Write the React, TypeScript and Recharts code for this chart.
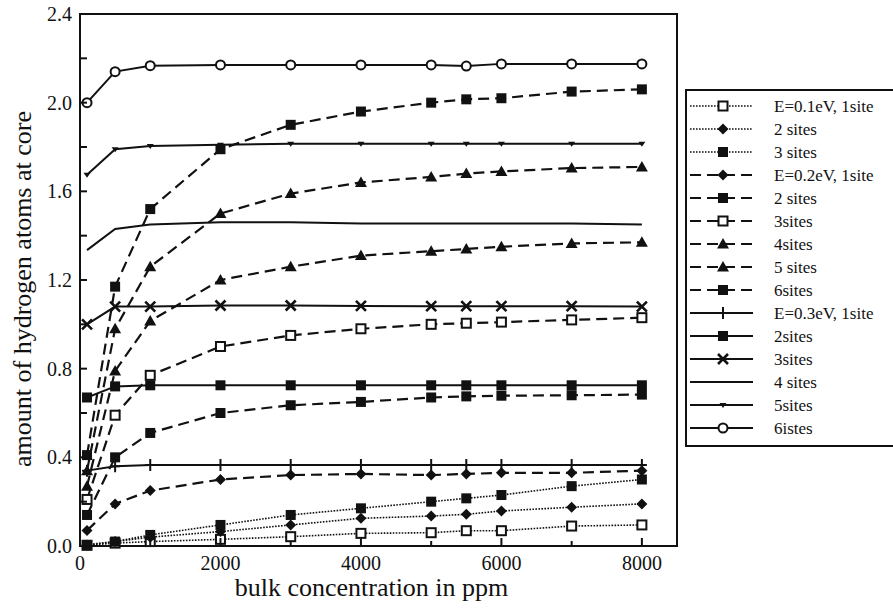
import React from 'react';
import { LineChart, Line, XAxis, YAxis, ReferenceArea, Legend } from 'recharts';

const concentration = [100, 500, 1000, 2000, 3000, 4000, 5000, 5500, 6000, 7000, 8000];

const e01Site1 = [0.003, 0.013, 0.02, 0.03, 0.042, 0.057, 0.06, 0.069, 0.069, 0.09, 0.095];
const e01Sites2 = [0.005, 0.02, 0.04, 0.065, 0.095, 0.125, 0.135, 0.143, 0.158, 0.175, 0.19];
const e01Sites3 = [0.005, 0.02, 0.05, 0.095, 0.14, 0.17, 0.2, 0.215, 0.23, 0.27, 0.3];
const e02Site1 = [0.07, 0.19, 0.25, 0.3, 0.32, 0.325, 0.32, 0.325, 0.33, 0.33, 0.34];
const e02Sites2 = [0.14, 0.4, 0.51, 0.6, 0.635, 0.65, 0.67, 0.675, 0.678, 0.68, 0.683];
const e02Sites3 = [0.21, 0.59, 0.77, 0.9, 0.95, 0.98, 1.0, 1.005, 1.01, 1.02, 1.03];
const e02Sites4 = [0.27, 0.79, 1.015, 1.2, 1.26, 1.31, 1.33, 1.34, 1.35, 1.365, 1.37];
const e02Sites5 = [0.34, 0.98, 1.26, 1.5, 1.59, 1.64, 1.665, 1.68, 1.69, 1.705, 1.71];
const e02Sites6 = [0.41, 1.17, 1.52, 1.79, 1.9, 1.96, 2.0, 2.015, 2.02, 2.05, 2.06];
const e03Site1 = [0.34, 0.36, 0.365, 0.365, 0.365, 0.365, 0.365, 0.365, 0.365, 0.365, 0.365];
const e03Sites2 = [0.67, 0.72, 0.725, 0.725, 0.725, 0.725, 0.725, 0.725, 0.725, 0.725, 0.725];
const e03Sites3 = [1.0, 1.08, 1.08, 1.085, 1.085, 1.083, 1.082, 1.082, 1.082, 1.082, 1.08];
const e03Sites4 = [1.335, 1.43, 1.45, 1.46, 1.46, 1.455, 1.455, 1.455, 1.455, 1.455, 1.45];
const e03Sites5 = [1.675, 1.79, 1.805, 1.81, 1.815, 1.815, 1.815, 1.815, 1.815, 1.815, 1.815];
const e03Sites6 = [2.0, 2.14, 2.167, 2.17, 2.17, 2.17, 2.17, 2.165, 2.175, 2.175, 2.175];

const seriesLabels = [
  'E=0.1eV, 1site', '2 sites', '3 sites',
  'E=0.2eV, 1site', '2 sites', '3sites', '4sites', '5 sites', '6sites',
  'E=0.3eV, 1site', '2sites', '3sites', '4 sites', '5sites', '6istes',
];

const xTicks = [0, 1000, 2000, 3000, 4000, 5000, 6000, 7000, 8000];
const xLabelTicks = [0, 2000, 4000, 6000, 8000];
const yTicks = [0, 0.2, 0.4, 0.6, 0.8, 1.0, 1.2, 1.4, 1.6, 1.8, 2.0, 2.2, 2.4];
const yLabelTicks = [0, 0.4, 0.8, 1.2, 1.6, 2.0, 2.4];

const xTitle = 'bulk concentration in ppm';
const yTitle = 'amount of hydrogen atoms at core';

type LineKind = 'dotted' | 'dashed' | 'solid';
type Shape = 'openSquare' | 'square' | 'diamond' | 'triangle' | 'plus' | 'cross' | 'none' | 'smallTri' | 'openCircle';

const seriesValues = [
  e01Site1, e01Sites2, e01Sites3,
  e02Site1, e02Sites2, e02Sites3, e02Sites4, e02Sites5, e02Sites6,
  e03Site1, e03Sites2, e03Sites3, e03Sites4, e03Sites5, e03Sites6,
];
const seriesKinds: LineKind[] = [
  'dotted', 'dotted', 'dotted',
  'dashed', 'dashed', 'dashed', 'dashed', 'dashed', 'dashed',
  'solid', 'solid', 'solid', 'solid', 'solid', 'solid',
];
const seriesShapes: Shape[] = [
  'openSquare', 'diamond', 'square',
  'diamond', 'square', 'openSquare', 'triangle', 'triangle', 'square',
  'plus', 'square', 'cross', 'none', 'smallTri', 'openCircle',
];

const seriesDefs = seriesLabels.map((label, i) => ({
  key: `s${i}`,
  label,
  values: seriesValues[i],
  kind: seriesKinds[i],
  shape: seriesShapes[i],
}));

const data = concentration.map((c, i) => {
  const row: Record<string, number> = { c };
  seriesDefs.forEach((s) => {
    row[s.key] = s.values[i];
  });
  return row;
});

const INK = '#111';
const FONT = 'Liberation Serif, Times New Roman, Times, serif';
const fontStyle = { fontFamily: FONT };

const lineStyle = (kind: LineKind) => {
  if (kind === 'dotted') return { strokeWidth: 1.6, strokeDasharray: '1.6 1.4' };
  if (kind === 'dashed') return { strokeWidth: 2.2, strokeDasharray: '11 6' };
  return { strokeWidth: 2, strokeDasharray: undefined };
};

function Marker({ cx, cy, shape }: { cx: number; cy: number; shape: Shape }) {
  switch (shape) {
    case 'openSquare':
      return <rect x={cx - 4.5} y={cy - 4.5} width={9} height={9} fill="#fff" stroke={INK} strokeWidth={2} />;
    case 'square':
      return <rect x={cx - 5} y={cy - 5} width={10} height={10} fill={INK} />;
    case 'diamond':
      return <polygon points={`${cx},${cy - 5.5} ${cx + 5.5},${cy} ${cx},${cy + 5.5} ${cx - 5.5},${cy}`} fill={INK} />;
    case 'triangle':
      return <polygon points={`${cx},${cy - 6} ${cx + 6},${cy + 4.5} ${cx - 6},${cy + 4.5}`} fill={INK} />;
    case 'plus':
      return <path d={`M${cx - 5},${cy}H${cx + 5}M${cx},${cy - 6}V${cy + 6}`} stroke={INK} strokeWidth={2} fill="none" />;
    case 'cross':
      return <path d={`M${cx - 5},${cy - 5}L${cx + 5},${cy + 5}M${cx + 5},${cy - 5}L${cx - 5},${cy + 5}`} stroke={INK} strokeWidth={2.6} fill="none" />;
    case 'smallTri':
      return <polygon points={`${cx - 3.5},${cy - 2} ${cx + 3.5},${cy - 2} ${cx},${cy + 3}`} fill={INK} />;
    case 'openCircle':
      return <circle cx={cx} cy={cy} r={4.5} fill="#fff" stroke={INK} strokeWidth={2} />;
    default:
      return null;
  }
}

const makeDot = (shape: Shape) => (props: any) => {
  const { cx, cy, index } = props;
  if (cx == null || cy == null || shape === 'none') return <g key={`d${index}`} />;
  return (
    <g key={`d${index}`}>
      <Marker cx={cx} cy={cy} shape={shape} />
    </g>
  );
};

const XTick = (props: any) => {
  const { x, y, payload } = props;
  const v = payload.value;
  const major = xLabelTicks.includes(v);
  return (
    <g>
      <line x1={x} x2={x} y1={y} y2={y - (major ? 8 : 5)} stroke={INK} strokeWidth={2} />
      {major && (
        <text x={x} y={y + 24} textAnchor="middle" fontSize={20} style={fontStyle} fill={INK}>
          {v}
        </text>
      )}
    </g>
  );
};

const YTick = (props: any) => {
  const { x, y, payload } = props;
  const v = payload.value;
  const major = yLabelTicks.some((t) => Math.abs(t - v) < 1e-6);
  return (
    <g>
      <line x1={x} x2={x + 7} y1={y} y2={y} stroke={INK} strokeWidth={2} />
      {major && (
        <text x={x - 8} y={y + 7} textAnchor="end" fontSize={20} style={fontStyle} fill={INK}>
          {v.toFixed(1)}
        </text>
      )}
    </g>
  );
};

const XTitleLabel = (props: any) => {
  const vb = props.viewBox;
  const cx = vb.x + vb.width / 2 - 7;
  return (
    <text x={cx} y={vb.y + 50} textAnchor="middle" fontSize={26} style={fontStyle} fill={INK}>
      {xTitle}
    </text>
  );
};

const YTitleLabel = (props: any) => {
  const vb = props.viewBox;
  const cy = vb.y + vb.height / 2 + 9;
  const x = 31;
  return (
    <text x={x} y={cy} transform={`rotate(-90, ${x}, ${cy})`} textAnchor="middle" fontSize={26} style={fontStyle} fill={INK}>
      {yTitle}
    </text>
  );
};

const LegendBox = () => (
  <div
    style={{
      boxSizing: 'border-box',
      width: 208,
      height: 358,
      borderLeft: `2px solid ${INK}`,
      borderTop: `2px solid ${INK}`,
      borderBottom: `2px solid ${INK}`,
      background: '#fff',
    }}
  >
    <svg width={206} height={354} style={{ display: 'block' }}>
      {seriesDefs.map((s, i) => {
        const y = 15 + 23 * i;
        const ls = lineStyle(s.kind);
        return (
          <g key={s.key}>
            <line x1={3} x2={66} y1={y} y2={y} stroke={INK} strokeWidth={ls.strokeWidth} strokeDasharray={ls.strokeDasharray} />
            {s.shape !== 'none' && <Marker cx={36} cy={y} shape={s.shape} />}
            <text x={87} y={y + 5.5} fontSize={17} style={fontStyle} fill={INK}>
              {s.label}
            </text>
          </g>
        );
      })}
    </svg>
  </div>
);

export default function App() {
  return (
    <div style={{ position: 'absolute', left: 0, top: 0, width: 893, height: 615, background: '#fff', fontFamily: FONT }}>
      <LineChart width={893} height={615} data={data} margin={{ top: 14, right: 216, bottom: 29, left: 20 }} style={fontStyle}>
        <XAxis
          dataKey="c"
          type="number"
          domain={[0, 8500]}
          ticks={xTicks}
          interval={0}
          height={40}
          tickSize={0}
          tickMargin={0}
          tickLine={false}
          axisLine={false}
          tick={<XTick />}
          label={XTitleLabel}
        />
        <YAxis
          type="number"
          domain={[0, 2.4]}
          ticks={yTicks}
          interval={0}
          width={60}
          tickSize={0}
          tickMargin={0}
          tickLine={false}
          axisLine={false}
          tick={<YTick />}
          label={YTitleLabel}
        />
        <ReferenceArea x1={0} x2={8500} y1={0} y2={2.4} fill="none" stroke={INK} strokeWidth={2} fillOpacity={0} />
        {seriesDefs.map((s) => {
          const ls = lineStyle(s.kind);
          return (
            <Line
              key={s.key}
              dataKey={s.key}
              name={s.label}
              type="linear"
              stroke={INK}
              strokeWidth={ls.strokeWidth}
              strokeDasharray={ls.strokeDasharray}
              dot={makeDot(s.shape)}
              activeDot={false}
              isAnimationActive={false}
            />
          );
        })}
        <Legend
          layout="horizontal"
          verticalAlign="middle"
          align="center"
          content={<LegendBox />}
          wrapperStyle={{ position: 'absolute', left: 685, top: 89, width: 208, height: 358 }}
        />
      </LineChart>
    </div>
  );
}
